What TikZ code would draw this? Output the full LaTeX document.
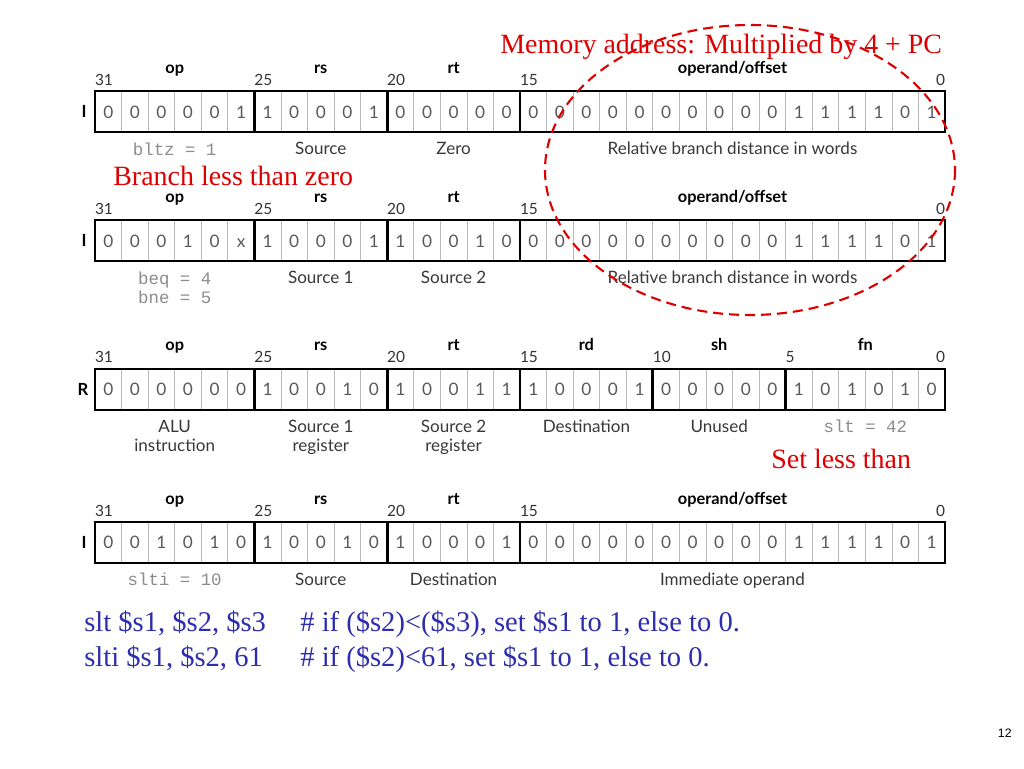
\documentclass[tikz,border=0pt]{standalone}
\usepackage{fontspec}
\setmainfont{Liberation Serif}
\setsansfont{Lato}
\setmonofont{Liberation Mono}
\newfontfamily\pagefont{Liberation Sans}
\usepackage{tikz}
\usetikzlibrary{calc}
\definecolor{notered}{RGB}{222,0,0}
\definecolor{asmblue}{RGB}{45,45,175}

\begin{document}
\begin{tikzpicture}[x=0.02cm,y=-0.02cm]
\tikzset{bit/.style = {draw=gray!55, line width=0.4pt, minimum width=0.53125cm, minimum height=0.8cm, inner sep=0pt, text height=0.72em, text depth=0pt, font=\sffamily\fontsize{9.8}{10}\selectfont, text=black!65}}
\tikzset{field/.style = {draw=black, line width=1.2pt}}
\tikzset{num/.style = {font=\sffamily\fontsize{8.8}{9}\selectfont, text=black!80, inner sep=0pt}}
\tikzset{fname/.style = {font=\sffamily\bfseries\fontsize{9.3}{10}\selectfont, inner sep=0pt, anchor=base, yshift=0.36cm}}
\tikzset{desc/.style = {font=\sffamily\fontsize{9.7}{11}\selectfont, text=black!78, inner sep=0pt, align=center, anchor=north, yshift=-0.2cm}}
\tikzset{code/.style = {font=\ttfamily\fontsize{9.9}{11.3}\selectfont, text=black!45, inner sep=0pt, align=left, anchor=north, yshift=-0.2cm}}
\tikzset{fmt/.style = {font=\sffamily\bfseries\fontsize{9.5}{10}\selectfont, inner sep=0pt}}
\tikzset{note/.style = {font=\fontsize{15.9}{18}\selectfont, text=notered, inner sep=0pt, anchor=base west}}
\tikzset{asm/.style = {font=\fontsize{16.25}{18}\selectfont, text=asmblue, inner sep=0pt, anchor=base west}}

\useasboundingbox (0,0) rectangle (1024,768);

%bltz
\foreach \b [count=\i from 0] in {0,0,0,0,0,1,1,0,0,0,1,0,0,0,0,0,0,0,0,0,0,0,0,0,0,0,1,1,1,1,0,1}
  \node[bit] (a\i) at ({95+26.5625*(\i+0.5)},111.7) {\b};
\draw[field] (a0.north west) rectangle (a5.south east);
\draw[field] (a6.north west) rectangle (a10.south east);
\draw[field] (a11.north west) rectangle (a15.south east);
\draw[field] (a16.north west) rectangle (a31.south east);
\node[fmt] (aI) at (84,111.7) {I};
\node[num, anchor=base west, yshift=0.12cm] (an31) at (a0.north west) {31};
\node[num, anchor=base west, yshift=0.12cm] (an25) at (a6.north west) {25};
\node[num, anchor=base west, yshift=0.12cm] (an20) at (a11.north west) {20};
\node[num, anchor=base west, yshift=0.12cm] (an15) at (a16.north west) {15};
\node[num, anchor=base east, yshift=0.12cm] (an0) at (a31.north east) {0};
\node[fname] (aop) at ($(a0.north west)!.5!(a5.north east)$) {op};
\node[fname] (ars) at ($(a6.north west)!.5!(a10.north east)$) {rs};
\node[fname] (art) at ($(a11.north west)!.5!(a15.north east)$) {rt};
\node[fname] (aoff) at ($(a16.north west)!.5!(a31.north east)$) {operand/offset};
\node[code] (adop) at ($(a0.south west)!.5!(a5.south east)$) {bltz = 1};
\node[desc] (adrs) at ($(a6.south west)!.5!(a10.south east)$) {Source};
\node[desc] (adrt) at ($(a11.south west)!.5!(a15.south east)$) {Zero};
\node[desc] (adoff) at ($(a16.south west)!.5!(a31.south east)$) {Relative branch distance in words};

%beq / bne
\foreach \b [count=\i from 0] in {0,0,0,1,0,x,1,0,0,0,1,1,0,0,1,0,0,0,0,0,0,0,0,0,0,0,1,1,1,1,0,1}
  \node[bit] (b\i) at ({95+26.5625*(\i+0.5)},240.7) {\b};
\draw[field] (b0.north west) rectangle (b5.south east);
\draw[field] (b6.north west) rectangle (b10.south east);
\draw[field] (b11.north west) rectangle (b15.south east);
\draw[field] (b16.north west) rectangle (b31.south east);
\node[fmt] (bI) at (84,240.7) {I};
\node[num, anchor=base west, yshift=0.12cm] (bn31) at (b0.north west) {31};
\node[num, anchor=base west, yshift=0.12cm] (bn25) at (b6.north west) {25};
\node[num, anchor=base west, yshift=0.12cm] (bn20) at (b11.north west) {20};
\node[num, anchor=base west, yshift=0.12cm] (bn15) at (b16.north west) {15};
\node[num, anchor=base east, yshift=0.12cm] (bn0) at (b31.north east) {0};
\node[fname] (bop) at ($(b0.north west)!.5!(b5.north east)$) {op};
\node[fname] (brs) at ($(b6.north west)!.5!(b10.north east)$) {rs};
\node[fname] (brt) at ($(b11.north west)!.5!(b15.north east)$) {rt};
\node[fname] (boff) at ($(b16.north west)!.5!(b31.north east)$) {operand/offset};
\node[code] (bdop) at ($(b0.south west)!.5!(b5.south east)$) {beq = 4\\bne = 5};
\node[desc] (bdrs) at ($(b6.south west)!.5!(b10.south east)$) {Source 1};
\node[desc] (bdrt) at ($(b11.south west)!.5!(b15.south east)$) {Source 2};
\node[desc] (bdoff) at ($(b16.south west)!.5!(b31.south east)$) {Relative branch distance in words};

%slt
\foreach \b [count=\i from 0] in {0,0,0,0,0,0,1,0,0,1,0,1,0,0,1,1,1,0,0,0,1,0,0,0,0,0,1,0,1,0,1,0}
  \node[bit] (c\i) at ({95+26.5625*(\i+0.5)},389.2) {\b};
\draw[field] (c0.north west) rectangle (c5.south east);
\draw[field] (c6.north west) rectangle (c10.south east);
\draw[field] (c11.north west) rectangle (c15.south east);
\draw[field] (c16.north west) rectangle (c20.south east);
\draw[field] (c21.north west) rectangle (c25.south east);
\draw[field] (c26.north west) rectangle (c31.south east);
\node[fmt] (cR) at (83,389.2) {R};
\node[num, anchor=base west, yshift=0.12cm] (cn31) at (c0.north west) {31};
\node[num, anchor=base west, yshift=0.12cm] (cn25) at (c6.north west) {25};
\node[num, anchor=base west, yshift=0.12cm] (cn20) at (c11.north west) {20};
\node[num, anchor=base west, yshift=0.12cm] (cn15) at (c16.north west) {15};
\node[num, anchor=base west, yshift=0.12cm] (cn10) at (c21.north west) {10};
\node[num, anchor=base west, yshift=0.12cm] (cn5) at (c26.north west) {5};
\node[num, anchor=base east, yshift=0.12cm] (cn0) at (c31.north east) {0};
\node[fname] (cop) at ($(c0.north west)!.5!(c5.north east)$) {op};
\node[fname] (crs) at ($(c6.north west)!.5!(c10.north east)$) {rs};
\node[fname] (crt) at ($(c11.north west)!.5!(c15.north east)$) {rt};
\node[fname] (crd) at ($(c16.north west)!.5!(c20.north east)$) {rd};
\node[fname] (csh) at ($(c21.north west)!.5!(c25.north east)$) {sh};
\node[fname] (cfn) at ($(c26.north west)!.5!(c31.north east)$) {fn};
\node[desc] (cdop) at ($(c0.south west)!.5!(c5.south east)$) {ALU\\instruction};
\node[desc] (cdrs) at ($(c6.south west)!.5!(c10.south east)$) {Source 1\\register};
\node[desc] (cdrt) at ($(c11.south west)!.5!(c15.south east)$) {Source 2\\register};
\node[desc] (cdrd) at ($(c16.south west)!.5!(c20.south east)$) {Destination};
\node[desc] (cdsh) at ($(c21.south west)!.5!(c25.south east)$) {Unused};
\node[code] (cdfn) at ($(c26.south west)!.5!(c31.south east)$) {slt = 42};

%slti
\foreach \b [count=\i from 0] in {0,0,1,0,1,0,1,0,0,1,0,1,0,0,0,1,0,0,0,0,0,0,0,0,0,0,1,1,1,1,0,1}
  \node[bit] (d\i) at ({95+26.5625*(\i+0.5)},542.5) {\b};
\draw[field] (d0.north west) rectangle (d5.south east);
\draw[field] (d6.north west) rectangle (d10.south east);
\draw[field] (d11.north west) rectangle (d15.south east);
\draw[field] (d16.north west) rectangle (d31.south east);
\node[fmt] (dI) at (84,542.5) {I};
\node[num, anchor=base west, yshift=0.12cm] (dn31) at (d0.north west) {31};
\node[num, anchor=base west, yshift=0.12cm] (dn25) at (d6.north west) {25};
\node[num, anchor=base west, yshift=0.12cm] (dn20) at (d11.north west) {20};
\node[num, anchor=base west, yshift=0.12cm] (dn15) at (d16.north west) {15};
\node[num, anchor=base east, yshift=0.12cm] (dn0) at (d31.north east) {0};
\node[fname] (dop) at ($(d0.north west)!.5!(d5.north east)$) {op};
\node[fname] (drs) at ($(d6.north west)!.5!(d10.north east)$) {rs};
\node[fname] (drt) at ($(d11.north west)!.5!(d15.north east)$) {rt};
\node[fname] (doff) at ($(d16.north west)!.5!(d31.north east)$) {operand/offset};
\node[code] (ddop) at ($(d0.south west)!.5!(d5.south east)$) {slti = 10};
\node[desc] (ddrs) at ($(d6.south west)!.5!(d10.south east)$) {Source};
\node[desc] (ddrt) at ($(d11.south west)!.5!(d15.south east)$) {Destination};
\node[desc] (ddoff) at ($(d16.south west)!.5!(d31.south east)$) {Immediate operand};

%notes
\draw[notered, line width=1.2pt, dash pattern=on 0.2cm off 0.12cm] (750,170) ellipse [x radius=205, y radius=145];
\node[note] (memo) at (500,53) {Memory address: Multiplied by 4 + PC};
\node[note] (blz) at (113,185) {Branch less than zero};
\node[note] (slt) at (771,468) {Set less than};

%assembly
\node[asm] (asm1) at (84,631) {slt \$s1, \$s2, \$s3};
\node[asm] (cmt1) at (300,631) {\# if (\$s2)<(\$s3), set \$s1 to 1, else to 0.};
\node[asm] (asm2) at (84,666) {slti \$s1, \$s2, 61};
\node[asm] (cmt2) at (300,666) {\# if (\$s2)<61, set \$s1 to 1, else to 0.};

\node[font=\pagefont\fontsize{7}{8}\selectfont, anchor=base east, inner sep=0pt] (page) at (1012,737) {12};
\end{tikzpicture}
\end{document}
